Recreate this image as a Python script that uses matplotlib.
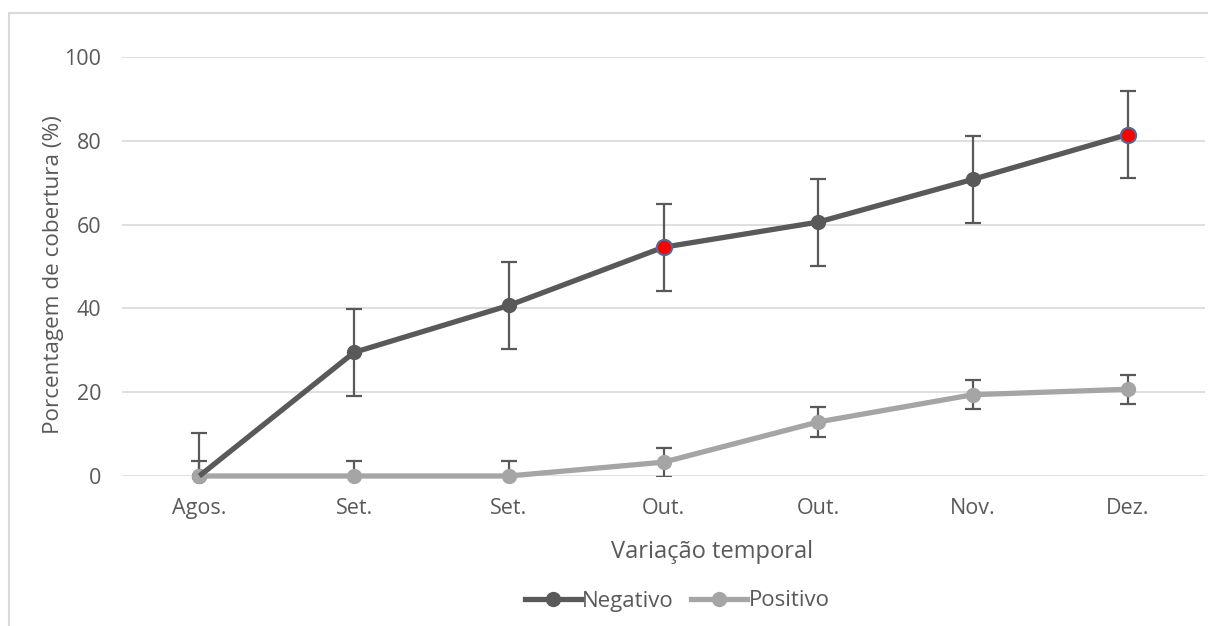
import matplotlib
matplotlib.use("Agg")
import matplotlib.pyplot as plt
from matplotlib.patches import Rectangle
from matplotlib.lines import Line2D

# Data
months = ["Agos.", "Set.", "Set.", "Out.", "Out.", "Nov.", "Dez."]
negativo = [0.0, 29.5, 40.7, 54.6, 60.6, 70.8, 81.5]
negativo_err = [10.3, 10.3, 10.3, 10.4, 10.4, 10.4, 10.3]
positivo = [0.0, 0.0, 0.0, 3.3, 12.9, 19.4, 20.7]
positivo_err = [3.5, 3.5, 3.5, 3.5, 3.5, 3.5, 3.5]
highlight_idx = [3, 6]
y_ticks = [0, 20, 40, 60, 80, 100]

plt.rcParams["font.family"] = ["Open Sans", "DejaVu Sans"]

W, H = 1208, 626
fig = plt.figure(figsize=(W / 100, H / 100), dpi=100)
ax = fig.add_axes([122 / W, (H - 476) / H, (1205 - 122) / W, (476 - 57) / H])

dark = "#595959"
light = "#A5A5A5"
err_col = "#595959"
text_col = "#595959"

x = list(range(len(months)))

# error bars (clipped at the axis floor)
for vals, errs in ((negativo, negativo_err), (positivo, positivo_err)):
    ax.errorbar(x, vals, yerr=errs, fmt="none", ecolor=err_col,
                elinewidth=1.6, capsize=5.5, capthick=1.6, zorder=2)

# series: dark markers, light series, then dark connecting line on top
ax.plot(x, negativo, linestyle="none", color=dark, marker="o", ms=10,
        zorder=3, clip_on=False)
ax.plot(x, positivo, color=light, lw=3.8, marker="o", ms=10,
        solid_capstyle="round", zorder=4, clip_on=False)
ax.plot(x, negativo, color=dark, lw=3.8, solid_capstyle="butt",
        zorder=5, clip_on=False)
ax.plot([x[i] for i in highlight_idx], [negativo[i] for i in highlight_idx],
        linestyle="none", marker="o", ms=11, mfc="#FF0000", mec="#41719C",
        mew=1.5, zorder=6, clip_on=False)

ax.set_xlim(-0.5, len(months) - 0.5)
ax.set_ylim(0, 100)
ax.set_yticks(y_ticks)
ax.set_xticks(x)
ax.set_xticklabels(months)
ax.tick_params(axis="both", length=0, labelsize=15.5, colors=text_col)
ax.tick_params(axis="x", pad=16)
ax.tick_params(axis="y", pad=15)
ax.grid(axis="y", color="#D9D9D9", lw=1.2)
ax.set_axisbelow(True)
for s in ax.spines.values():
    s.set_visible(False)

fig.text(54 / W, 1 - 275 / H, "Porcentagem de cobertura (%)", rotation=90,
         ha="center", va="center", fontsize=16.2, color=text_col)
fig.text(712 / W, 1 - 552 / H, "Variação temporal", ha="center",
         va="center", fontsize=17, color=text_col)

handles = [
    Line2D([], [], color=dark, lw=3.8, marker="o", ms=10),
    Line2D([], [], color=light, lw=3.8, marker="o", ms=10),
]
fig.legend(handles, ["Negativo", "Positivo"], loc="center",
           bbox_to_anchor=(677 / W, 1 - 601 / H), ncol=2, frameon=False,
           fontsize=16, labelcolor=text_col, handlelength=2.55,
           handletextpad=0.05, columnspacing=0.75)

# light chart-area border
fig.patches.append(Rectangle((9 / W, -0.05), 1.1, 1 - 13 / H + 0.05,
                             transform=fig.transFigure, fill=False,
                             edgecolor="#D9D9D9", lw=1.5))

fig.savefig("out.png", dpi=100, facecolor="white")
